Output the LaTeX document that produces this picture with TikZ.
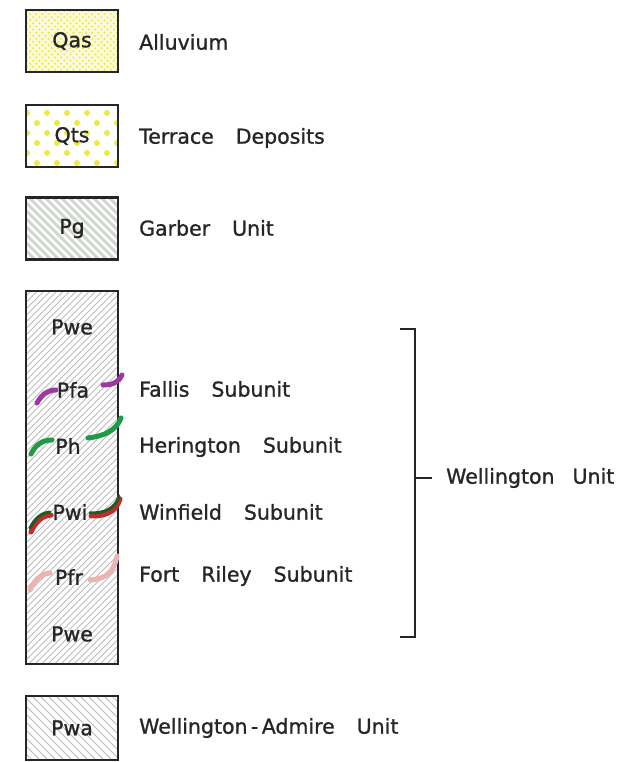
\documentclass[tikz,border=0pt]{standalone}
\usepackage{fontspec}
\setmainfont{DejaVu Sans}
\newfontface\lettering{DejaVu Sans}[FakeBold=1.1]
\definecolor{ink}{HTML}{262626}
\definecolor{dotyel}{HTML}{EEEA45}
\definecolor{paleyel}{HTML}{FBFADC}
\definecolor{pggray}{HTML}{D2D8D1}
\definecolor{hatchgray}{HTML}{BDBDBD}
\definecolor{fallis}{HTML}{9A3A9E}
\definecolor{hering}{HTML}{1E9A48}
\definecolor{winred}{HTML}{C42A2A}
\definecolor{wingreen}{HTML}{1F5A2A}
\definecolor{fortpink}{HTML}{EBB4B2}
\newcommand\wgap{\hspace{22pt}}
\begin{document}
\begin{tikzpicture}[x=1pt,y=-1pt,
  every node/.style={text=ink},
  box/.style={draw=ink, line width=2.3pt, minimum width=92pt, minimum height=62pt, inner sep=0pt, font=\lettering\fontsize{20.5}{23}\selectfont},
  unitlabel/.style={anchor=west, inner sep=0pt, font=\lettering\fontsize{20.5}{23}\selectfont},
  tag/.style={inner sep=0pt, font=\lettering\fontsize{20.5}{23}\selectfont},
  stroke/.style={line width=5pt, line cap=round},
  bracket/.style={draw=ink, line width=2pt}
]
\useasboundingbox[fill=white] (0,0) rectangle (622,762);

% Qas
\node[box, fill=paleyel, path picture={
  \foreach \i in {0,...,15}{\foreach \j in {0,...,10}{
    \fill[dotyel] ([shift={(1+\i*6.2,1+\j*6.2)}]path picture bounding box.north west) circle (1.2pt);
    \fill[dotyel] ([shift={(4.1+\i*6.2,4.1+\j*6.2)}]path picture bounding box.north west) circle (1.2pt);}}
}] (qas) at (72,41) {Qas};
\node[unitlabel] (alluv) at (139,42) {Alluvium};

% Qts
\node[box, fill=white, path picture={
  \foreach \i in {-1,...,5}{\foreach \j in {-1,...,3}{
    \fill[dotyel] ([shift={(21+\i*20,8+\j*20)}]path picture bounding box.north west) circle (3pt);
    \fill[dotyel] ([shift={(11+\i*20,18+\j*20)}]path picture bounding box.north west) circle (3pt);}}
}] (qts) at (72,136) {Qts};
\node[unitlabel] (terr) at (139,138) {Terrace\wgap Deposits};

% Pg
\node[box, fill=pggray, path picture={
  \foreach \i in {-25,...,25}{
    \draw[white, line width=2.2pt] ([xshift=\i*8pt]path picture bounding box.center) ++(-200,-200) -- ++(400,400);}
}] (pg) at (72,228.5) {Pg};
\node[unitlabel] (garb) at (139,228) {Garber\wgap Unit};

% Wellington column
\node[box, fill=white, minimum height=373pt, path picture={
  \foreach \i in {-45,...,45}{
    \draw[hatchgray, line width=0.8pt] ([xshift=\i*6.5pt]path picture bounding box.center) ++(-300,300) -- ++(600,-600);}
}] (col) at (72,477.5) {};

% coloured contacts
\draw[stroke, fallis] (37,403) .. controls (42,394) and (48,390) .. (56,390);
\draw[stroke, fallis] (103,385) .. controls (112,385) and (118,383) .. (122,375);
\draw[stroke, hering] (31,454) .. controls (36,444) and (43,440) .. (52,440);
\draw[stroke, hering] (88,438) .. controls (104,436) and (116,431) .. (121,418);
\draw[stroke, winred] (31,532) .. controls (36,521) and (42,516) .. (51,515);
\draw[stroke, winred] (91,516) .. controls (106,516) and (116,512) .. (120,499);
\draw[line width=3pt, line cap=round, wingreen] (30,528) .. controls (35,518) and (41,513) .. (50,512);
\draw[line width=3pt, line cap=round, wingreen] (90,513) .. controls (105,513) and (115,509) .. (119,496);
\draw[stroke, fortpink] (30,590) .. controls (35,579) and (41,574) .. (50,573);
\draw[stroke, fortpink] (90,580) .. controls (106,579) and (114,572) .. (117,556);

\node[tag] (pwe1) at (72,327) {Pwe};
\node[tag] (pfa) at (73,390) {Pfa};
\node[tag] (ph) at (68,446) {Ph};
\node[tag] (pwi) at (70,512) {Pwi};
\node[tag] (pfr) at (69,577) {Pfr};
\node[tag] (pwe2) at (72,634) {Pwe};

\node[unitlabel] (fall) at (139,389) {Fallis\wgap Subunit};
\node[unitlabel] (her) at (139,447) {Herington\wgap Subunit};
\node[unitlabel] (win) at (139,512) {Winfield\wgap Subunit};
\node[unitlabel] (fort) at (139,576) {Fort\wgap Riley\wgap Subunit};

% bracket
\coordinate (btl) at (400,329);
\coordinate (btop) at (415,329);
\coordinate (bbot) at (415,637);
\coordinate (bbl) at (400,637);
\coordinate (bmid) at (415,478);
\node[unitlabel] (wu) at (446,478) {Wellington\hspace{18pt}Unit};
\draw[bracket] (btl) -- (btop) -- (bbot) -- (bbl);
\draw[bracket] (bmid) -- ([xshift=-14pt]wu.west);

% Pwa
\node[box, fill=white, minimum height=64pt, path picture={
  \foreach \i in {-20,...,20}{
    \draw[hatchgray, line width=0.8pt] ([xshift=\i*8pt]path picture bounding box.center) ++(-200,-200) -- ++(400,400);}
}] (pwa) at (72,728) {Pwa};
\node[unitlabel] (wa) at (139,728) {Wellington\,-\,Admire\wgap Unit};
\end{tikzpicture}
\end{document}
